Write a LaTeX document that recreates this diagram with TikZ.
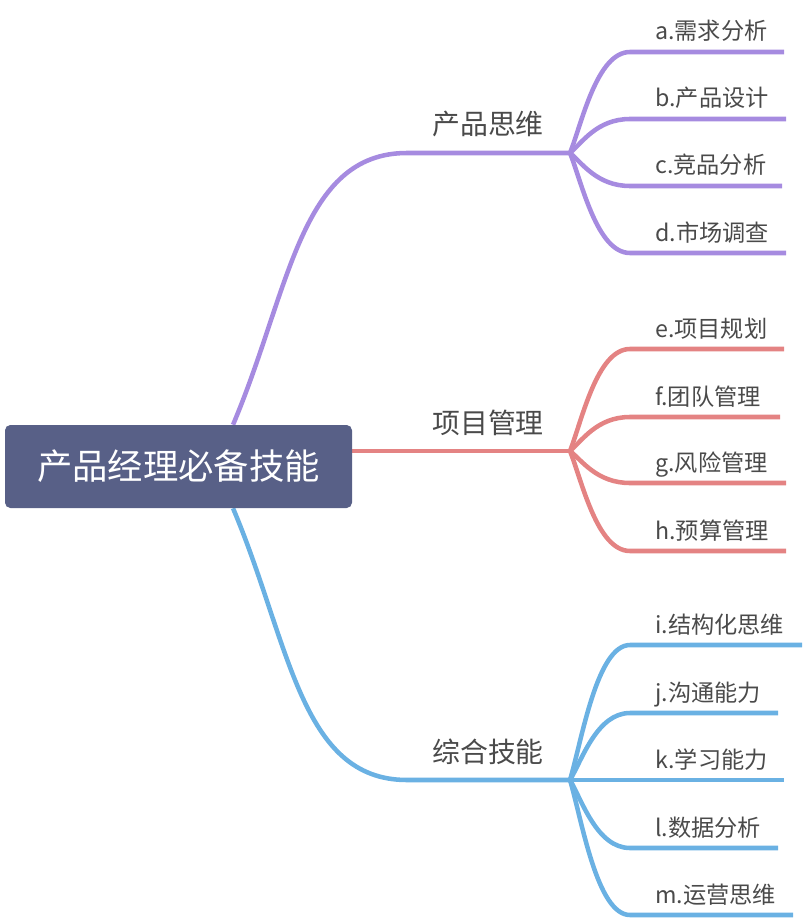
\documentclass[tikz,border=0pt]{standalone}
\usepackage{fontspec}
\setmainfont{Noto Sans CJK SC}
\usetikzlibrary{backgrounds}
\definecolor{rootc}{HTML}{586087}
\definecolor{pc}{HTML}{A68BE0}
\definecolor{rc}{HTML}{E48383}
\definecolor{bc}{HTML}{6AB1E3}
\definecolor{txt}{HTML}{4A4A4A}
\tikzset{
  rootbox/.style={fill=rootc, rounded corners=4pt, text=white, font=\fontsize{26.5}{30}\selectfont,
    minimum width=260.25pt, minimum height=62.25pt, inner sep=0pt},
  midlabel/.style={anchor=base west, inner sep=0pt, text=txt, font=\fontsize{20.9}{24}\selectfont},
  leaflabel/.style={anchor=base west, inner sep=0pt, text=txt, font=\fontsize{17.4}{20}\selectfont},
  conn/.style={line width=3.4pt, line cap=butt},
}
\begin{document}
\begin{tikzpicture}[x=0.75pt,y=-0.75pt]
\useasboundingbox (0,0) rectangle (806,920);

\node[rootbox] (root) at (178.5,466.5) {产品经理必备技能};

% junction coordinates
\coordinate (pj) at (570,153);
\coordinate (rj) at (570,451);
\coordinate (bj) at (570,780);

% main branches
\begin{scope}[on background layer]
\draw[conn, pc] ([xshift=40.9pt]root.north) .. controls (290,290) and (300,153) .. (407,153) -- (pj);
\draw[conn, bc] ([xshift=40.9pt]root.south) .. controls (290,643) and (300,780) .. (407,780) -- (bj);
\draw[conn, rc] (root.east |- rj) -- (rj);
\end{scope}

% mid labels
\node[midlabel] (p) at (432,135) {产品思维};
\node[midlabel] (r) at (432,433) {项目管理};
\node[midlabel] (b) at (432,762) {综合技能};

% purple leaves
\draw[conn, pc] (pj) .. controls (582,122.7) and (597,52) .. (630,52) -- (784,52) coordinate (ae);
\draw[conn, pc] (pj) .. controls (582,142.8) and (597,119) .. (630,119) -- (786,119) coordinate (be);
\draw[conn, pc] (pj) .. controls (582,162.9) and (597,186) .. (630,186) -- (782,186) coordinate (ce);
\draw[conn, pc] (pj) .. controls (582,183) and (597,253) .. (630,253) -- (786,253) coordinate (de);
\node[leaflabel] (a) at (655,40) {a.需求分析};
\node[leaflabel] (bb) at (655,107) {b.产品设计};
\node[leaflabel] (c) at (655,174) {c.竞品分析};
\node[leaflabel] (d) at (655,241) {d.市场调查};

% red leaves
\draw[conn, rc] (rj) .. controls (582,420.4) and (597,349) .. (630,349) -- (784,349) coordinate (ee);
\draw[conn, rc] (rj) .. controls (582,440.8) and (597,417) .. (630,417) -- (780,417) coordinate (fe);
\draw[conn, rc] (rj) .. controls (582,460.6) and (597,483) .. (630,483) -- (786,483) coordinate (ge);
\draw[conn, rc] (rj) .. controls (582,481) and (597,551) .. (630,551) -- (786,551) coordinate (he);
\node[leaflabel] (e) at (655,337) {e.项目规划};
\node[leaflabel] (f) at (655,405) {f.团队管理};
\node[leaflabel] (g) at (655,471) {g.风险管理};
\node[leaflabel] (h) at (655,539) {h.预算管理};

% blue leaves
\draw[conn, bc] (bj) .. controls (582,739.5) and (597,645) .. (630,645) -- (802,645) coordinate (ie);
\draw[conn, bc] (bj) .. controls (582,759.9) and (597,713) .. (630,713) -- (778,713) coordinate (je);
\draw[conn, bc] (bj) -- (784,780) coordinate (ke);
\draw[conn, bc] (bj) .. controls (582,800.4) and (597,848) .. (630,848) -- (778,848) coordinate (le);
\draw[conn, bc] (bj) .. controls (582,820.5) and (597,915) .. (630,915) -- (793,915) coordinate (me);
\node[leaflabel] (i) at (655,633) {i.结构化思维};
\node[leaflabel] (j) at (655,701) {j.沟通能力};
\node[leaflabel] (k) at (655,768) {k.学习能力};
\node[leaflabel] (l) at (655,836) {l.数据分析};
\node[leaflabel] (m) at (655,903) {m.运营思维};
\end{tikzpicture}
\end{document}
